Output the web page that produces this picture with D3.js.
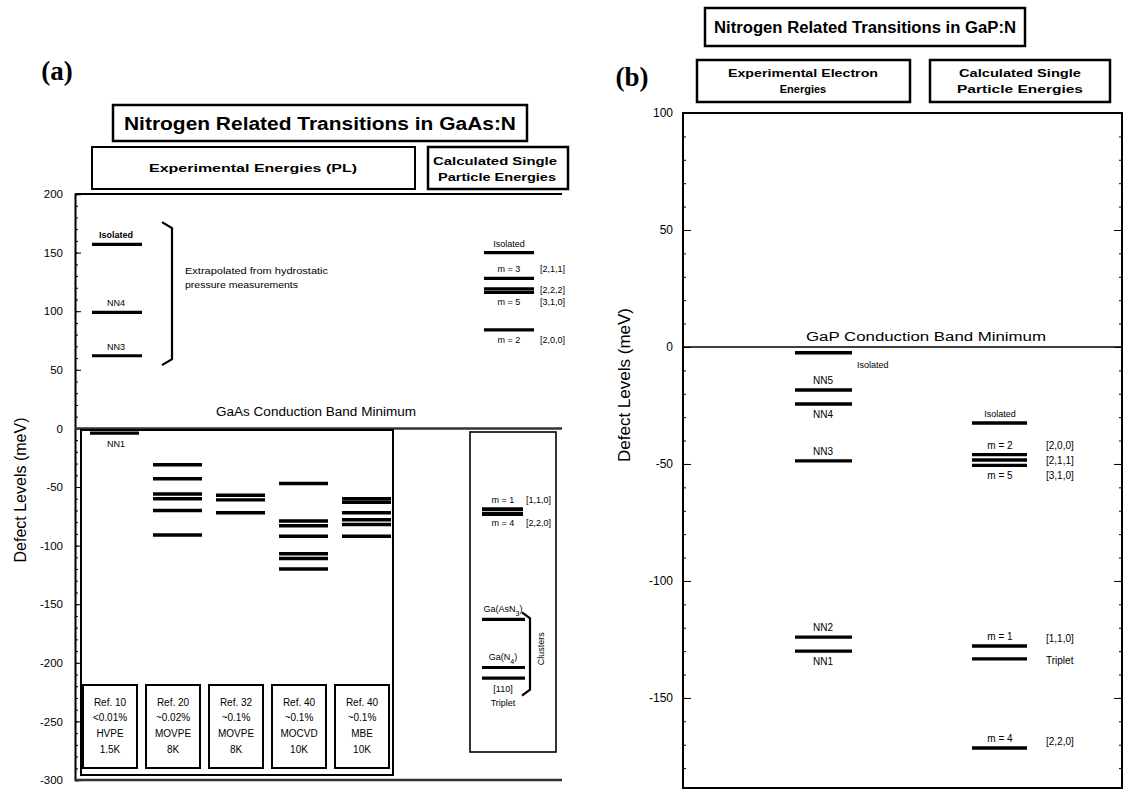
<!DOCTYPE html>
<html><head><meta charset="utf-8">
<script src="https://cdn.jsdelivr.net/npm/d3@7"></script>
<style>
body{margin:0;background:#fff}
svg{display:block}
text{font-family:"Liberation Sans",Arial,Helvetica,sans-serif;fill:#000}
</style>
</head><body>
<svg id="c" width="1134" height="790"></svg>
<script>
// ---------------- DATA ----------------
const ticksA = [200,150,100,50,0,-50,-100,-150,-200,-250,-300];
const ticksB = [100,50,0,-50,-100,-150];

// Panel (a): experimental levels extrapolated from pressure data
const aExtrapNames  = ["Isolated","NN4","NN3"];
const aExtrapValues = [157, 99, 62];

// Panel (a): calculated levels above CBM
const aCalcUpperValues = [150, 128, 119, 116, 84];
const aCalcUpperNames  = ["Isolated","m = 3","","m = 5","m = 2"];
const aCalcUpperShells = ["","[2,1,1]","[2,2,2]","[3,1,0]","[2,0,0]"];

// Panel (a): PL samples
const aSampleRefs    = ["Ref. 10","Ref. 20","Ref. 32","Ref. 40","Ref. 40"];
const aSampleConc    = ["<0.01%","~0.02%","~0.1%","~0.1%","~0.1%"];
const aSampleMethod  = ["HVPE","MOVPE","MOVPE","MOCVD","MBE"];
const aSampleTemp    = ["1.5K","8K","8K","10K","10K"];
const aSampleLevels  = [
  [-4],
  [-31,-43,-56,-60,-70,-91],
  [-57,-61,-72],
  [-47,-79,-83,-92,-107,-111,-120],
  [-60,-63,-72,-78,-82,-92]
];

// Panel (a): calculated levels below CBM
const aCalcPairValues = [-69, -73];
const aCalcPairNames  = ["m = 1","m = 4"];
const aCalcPairShells = ["[1,1,0]","[2,2,0]"];
const aClusterAsN3 = [-163];
const aClusterN4   = [-204, -213];

// Panel (b): experimental
const bExpValues = [-2.5, -18.4, -24.4, -48.7, -124, -130];
const bExpNames  = ["Isolated","NN5","NN4","NN3","NN2","NN1"];

// Panel (b): calculated
const bCalcIsolated = [-32.5];
const bCalcMid      = [-46, -48.3, -50.6];
const bCalcMidNames = ["m = 2","m = 5"];
const bCalcMidShells= ["[2,0,0]","[2,1,1]","[3,1,0]"];
const bCalcLow      = [-127.8, -133.3];
const bCalcLowShells= ["[1,1,0]","Triplet"];
const bCalcM4       = [-171.4];
const bCalcM4Shell  = ["[2,2,0]"];

// ---------------- DRAWING ----------------
const svg = d3.select("#c");
const yA = d3.scaleLinear().domain([-300,200]).range([780,194]);
const yB = d3.scaleLinear().domain([-188.5,100]).range([788,113]);
const serif = '"Liberation Serif","Times New Roman",serif';

function rect(x0,y0,x1,y1,sw){
  svg.append("rect").attr("x",x0).attr("y",y0).attr("width",x1-x0).attr("height",y1-y0)
    .attr("fill","none").attr("stroke","#000").attr("stroke-width",sw||2);
}
function txt(x,y,s,size,o){
  o=o||{};
  const t=svg.append("text").attr("x",x).attr("y",y).text(s)
    .attr("font-size",size).attr("text-anchor",o.anchor||"middle");
  if(o.bold) t.attr("font-weight","bold");
  if(o.len) t.attr("textLength",o.len).attr("lengthAdjust","spacingAndGlyphs");
  if(o.family) t.style("font-family",o.family);
  return t;
}
function hline(x0,x1,y,sw,col){
  svg.append("line").attr("x1",x0).attr("x2",x1).attr("y1",y).attr("y2",y)
    .attr("stroke",col||"#000").attr("stroke-width",sw||3);
}
function brace(x,yTop,yBot,w){
  const p=d3.path();
  p.moveTo(x-w,yTop); p.lineTo(x,yTop+6); p.lineTo(x,yBot-6); p.lineTo(x-w,yBot);
  svg.append("path").attr("d",p.toString()).attr("fill","none").attr("stroke","#000").attr("stroke-width",2.2);
}

// ===== Panel (a) =====
txt(57,80,"(a)",27,{bold:true,family:serif});
rect(113,105,527,141,2.5);
txt(320,130,"Nitrogen Related Transitions in GaAs:N",18,{bold:true,len:392});
rect(92,147,415,189,2);
txt(253,172,"Experimental Energies (PL)",10,{bold:true,len:208});
rect(428,147,568,189,2.5);
txt(495,165,"Calculated Single",11,{bold:true,len:124});
txt(497,181,"Particle Energies",11,{bold:true,len:118});

// axis (a)
const axA = svg.append("g").attr("transform","translate(75,0)");
axA.call(d3.axisLeft(yA).tickValues(ticksA).tickSize(-6).tickPadding(12).tickFormat(d=>String(d)));
axA.append("g").call(d3.axisLeft(yA).tickValues(d3.range(-300,201,10)).tickSize(-3).tickFormat(""));
axA.selectAll("path.domain").attr("stroke-width",1.6);
axA.selectAll("text").attr("font-size",11.5).style("font-family",'"Liberation Sans",Arial,sans-serif');
svg.append("text").attr("transform","translate(26,490) rotate(-90)").attr("text-anchor","middle")
  .attr("font-size",16).text("Defect Levels (meV)");

hline(75,562,yA(200),2);
hline(75,562,yA(0),2.5,"#333");
hline(75,562,yA(-300),2.5,"#333");
txt(316,416,"GaAs Conduction Band Minimum",12,{len:200});

// upper experimental (extrapolated)
aExtrapValues.forEach((v,i)=>{
  hline(92,142,yA(v),3.2);
  txt(116,yA(v)-6,aExtrapNames[i],9,{bold:i===0});
});
brace(172,yA(176),yA(54),10);
txt(185,274,"Extrapolated from hydrostatic",9.5,{anchor:"start",len:143});
txt(185,288,"pressure measurements",9.5,{anchor:"start",len:113});

// upper calculated
const upSide=["above","above","none","below","below"];
aCalcUpperValues.forEach((v,i)=>{
  hline(484,534,yA(v),3.2);
  let ly=yA(v);
  if(upSide[i]==="above") ly=yA(v)-6;
  if(upSide[i]==="below") ly=yA(v)+13;
  if(upSide[i]==="none") ly=yA(v)+4;
  if(aCalcUpperNames[i]) txt(509,ly,aCalcUpperNames[i],9);
  if(aCalcUpperShells[i]) txt(540,ly,aCalcUpperShells[i],9,{anchor:"start"});
});

// lower experimental samples
rect(81,430,393,775,2);
const band=d3.scaleBand().domain(d3.range(5)).range([80,395]);
aSampleLevels.forEach((lv,i)=>{
  const x0=band(i);
  lv.forEach(v=>hline(x0+10,x0+59,yA(v),3.4));
  rect(x0+3,685,x0+57,768,2);
  const cx=x0+30;
  txt(cx,706,aSampleRefs[i],10);
  txt(cx,721,aSampleConc[i],10);
  txt(cx,737,aSampleMethod[i],10);
  txt(cx,753,aSampleTemp[i],10);
});
txt(116,yA(-4)+14,"NN1",9);

// lower calculated
rect(470,432,556,752,1.6);
aCalcPairValues.forEach(v=>hline(482,523,yA(v),4));
txt(503,yA(aCalcPairValues[0])-6,aCalcPairNames[0],9);
txt(526,yA(aCalcPairValues[0])-6,aCalcPairShells[0],9,{anchor:"start"});
txt(503,yA(aCalcPairValues[1])+12,aCalcPairNames[1],9);
txt(526,yA(aCalcPairValues[1])+12,aCalcPairShells[1],9,{anchor:"start"});

aClusterAsN3.forEach(v=>hline(482,525,yA(v),3.2));
const ga1=txt(503,yA(aClusterAsN3[0])-7,"Ga(AsN",9);
ga1.append("tspan").attr("baseline-shift","sub").attr("font-size",7).text("3");
ga1.append("tspan").text(")");
aClusterN4.forEach(v=>hline(482,525,yA(v),3.2));
const ga2=txt(503,yA(aClusterN4[0])-7,"Ga(N",9);
ga2.append("tspan").attr("baseline-shift","sub").attr("font-size",7).text("4");
ga2.append("tspan").text(")");
txt(503,yA(aClusterN4[1])+14,"[110]",9);
txt(503,yA(aClusterN4[1])+28,"Triplet",9);
brace(530,yA(-157),yA(-228),8);
svg.append("text").attr("transform",`translate(544,${yA(-188)}) rotate(-90)`).attr("text-anchor","middle")
  .attr("font-size",9).text("Clusters");

// ===== Panel (b) =====
txt(632,86,"(b)",27,{bold:true,family:serif});
rect(705,8,1025,46,2.5);
txt(865,33,"Nitrogen Related Transitions in GaP:N",16,{bold:true,len:302});
rect(697,60,910,102,2.5);
txt(803,77,"Experimental Electron",11,{bold:true,len:150});
txt(803,93,"Energies",11,{bold:true});
rect(930,60,1110,102,2.5);
txt(1020,77,"Calculated Single",11,{bold:true,len:122});
txt(1020,93,"Particle Energies",11,{bold:true,len:126});

rect(683,113,1122,788,2);
const axB = svg.append("g").attr("transform","translate(683,0)");
axB.call(d3.axisLeft(yB).tickValues(ticksB).tickSize(-8).tickPadding(10).tickFormat(d=>String(d)));
axB.append("g").call(d3.axisLeft(yB).tickValues(d3.range(-180,101,10)).tickSize(-3).tickFormat(""));
axB.selectAll("path.domain").attr("stroke","none");
axB.selectAll("text").attr("font-size",12).style("font-family",'"Liberation Sans",Arial,sans-serif');
const axB2 = svg.append("g").attr("transform","translate(1122,0)");
axB2.call(d3.axisRight(yB).tickValues(ticksB).tickSize(-8).tickFormat(""));
axB2.append("g").call(d3.axisRight(yB).tickValues(d3.range(-180,101,10)).tickSize(-3).tickFormat(""));
axB2.selectAll("path.domain").attr("stroke","none");
svg.append("text").attr("transform","translate(630,385) rotate(-90)").attr("text-anchor","middle")
  .attr("font-size",17).text("Defect Levels (meV)");

hline(683,1122,yB(0),1.6);
txt(926,341,"GaP Conduction Band Minimum",12.5,{len:240});

// experimental (b)
bExpValues.forEach(v=>hline(795,852,yB(v),3.4));
txt(857,368,bExpNames[0],9,{anchor:"start"});
txt(823,yB(bExpValues[1])-6,bExpNames[1],10);
txt(823,yB(bExpValues[2])+14,bExpNames[2],10);
txt(823,yB(bExpValues[3])-6,bExpNames[3],10);
txt(823,yB(bExpValues[4])-6,bExpNames[4],10);
txt(823,yB(bExpValues[5])+14,bExpNames[5],10);

// calculated (b)
bCalcIsolated.forEach(v=>hline(972,1027,yB(v),3.4));
txt(1000,yB(bCalcIsolated[0])-6,"Isolated",9);
bCalcMid.forEach(v=>hline(972,1027,yB(v),3.4));
txt(1000,yB(bCalcMid[0])-6,bCalcMidNames[0],10);
txt(1000,yB(bCalcMid[2])+14,bCalcMidNames[1],10);
txt(1046,yB(bCalcMid[0])-6,bCalcMidShells[0],10,{anchor:"start"});
txt(1046,yB(bCalcMid[1])+4,bCalcMidShells[1],10,{anchor:"start"});
txt(1046,yB(bCalcMid[2])+14,bCalcMidShells[2],10,{anchor:"start"});
bCalcLow.forEach(v=>hline(972,1027,yB(v),3.4));
txt(1000,yB(bCalcLow[0])-6,"m = 1",10);
txt(1046,yB(bCalcLow[0])-4,bCalcLowShells[0],10,{anchor:"start"});
txt(1046,yB(bCalcLow[1])+5,bCalcLowShells[1],10,{anchor:"start"});
bCalcM4.forEach(v=>hline(972,1027,yB(v),3.4));
txt(1000,yB(bCalcM4[0])-6,"m = 4",10);
txt(1046,yB(bCalcM4[0])-3,bCalcM4Shell[0],10,{anchor:"start"});
</script>
</body></html>
